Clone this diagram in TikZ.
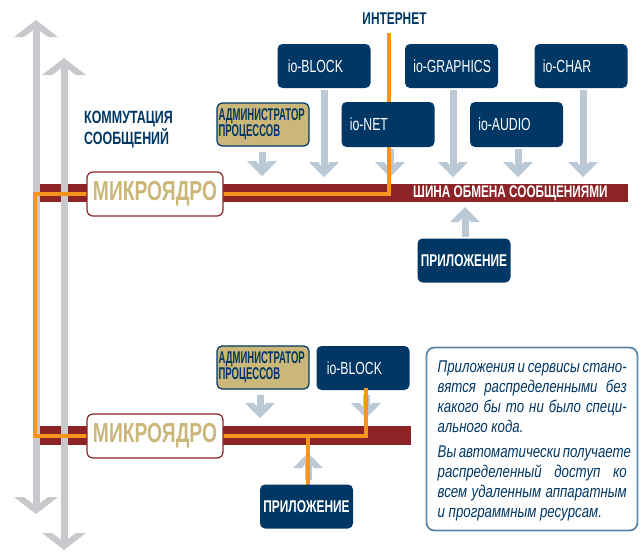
\documentclass[tikz,border=0pt]{standalone}
\usepackage{fontspec}
\setmainfont{Liberation Sans}
\newfontfamily\cf[FakeStretch=0.7]{Liberation Sans}
\newfontfamily\nf[FakeStretch=0.78]{Liberation Sans}
\usepackage{graphicx}
\definecolor{navy}{RGB}{0,55,100}
\definecolor{busred}{RGB}{139,35,39}
\definecolor{tan}{RGB}{203,183,122}
\definecolor{orng}{RGB}{247,148,29}
\definecolor{grayarr}{RGB}{200,201,204}
\definecolor{bluearr}{RGB}{187,201,215}
\definecolor{noteb}{RGB}{95,135,165}
\tikzset{
  navybox/.style={fill=navy, rounded corners=5pt, minimum width=93pt, minimum height=44pt, inner sep=0pt},
  adminbox/.style={fill=tan, draw=navy, line width=1.2pt, rounded corners=5pt, minimum width=92pt, minimum height=43pt, inner sep=0pt},
  kernelbox/.style={fill=white, draw=busred, line width=1.2pt, rounded corners=6pt, minimum width=136pt, minimum height=44pt, inner sep=0pt},
  bus/.style={fill=busred},
  orline/.style={draw=orng, line width=3.8pt},
  iotext/.style={text=white, font=\cf\fontsize{17.5}{18}\selectfont, anchor=west},
  labtxt/.style={text=navy, font=\cf\bfseries\fontsize{17}{19}\selectfont},
  kerntxt/.style={text=tan, font=\cf\bfseries\fontsize{27.5}{28}\selectfont},
  apptxt/.style={text=white, font=\cf\bfseries\fontsize{17}{17}\selectfont},
  admtxt/.style={anchor=west, inner sep=0pt, text=navy, align=left, font=\cf\bfseries\fontsize{13.6}{15.5}\selectfont},
}
\newcommand{\headup}[4]{% x, tip y, half width, color
  \fill[#4] (#1,#2) -- (#1+#3,#2+15) -- (#1+#3-9,#2+15) -- (#1,#2+7.5) -- (#1-#3+9,#2+15) -- (#1-#3,#2+15) -- cycle;}
\newcommand{\headdown}[4]{%
  \fill[#4] (#1,#2) -- (#1+#3,#2-15) -- (#1+#3-9,#2-15) -- (#1,#2-7.5) -- (#1-#3+9,#2-15) -- (#1-#3,#2-15) -- cycle;}
\newcommand{\bigheadup}[2]{%
  \fill[grayarr] (#1,#2) -- (#1+22,#2+17) -- (#1+12,#2+17) -- (#1,#2+8) -- (#1-12,#2+17) -- (#1-22,#2+17) -- cycle;}
\newcommand{\bigheaddown}[2]{%
  \fill[grayarr] (#1,#2) -- (#1+22,#2-17) -- (#1+12,#2-17) -- (#1,#2-8) -- (#1-12,#2-17) -- (#1-22,#2-17) -- cycle;}
\newcommand{\smalldown}[3]{% x, top, tip
  \fill[bluearr] (#1-3.5,#2) rectangle (#1+3.5,#3-4);
  \headdown{#1}{#3}{15}{bluearr}}
\newcommand{\smallup}[3]{% x, tip, bottom
  \fill[bluearr] (#1-3.5,#2+4) rectangle (#1+3.5,#3);
  \headup{#1}{#2}{15}{bluearr}}
\begin{document}
\begin{tikzpicture}[x=1pt,y=-1pt]
\useasboundingbox (0,0) rectangle (641,552);

% buses
\fill[bus] (40,184) rectangle (628,202);
\fill[bus] (40,426) rectangle (411,445);

% big gray arrows
\fill[grayarr] (32.5,23) rectangle (39.5,510);
\bigheadup{36}{20}
\bigheaddown{36}{514}
\fill[grayarr] (60.5,61) rectangle (67.5,546);
\bigheadup{64}{58}
\bigheaddown{64}{550}

% labels
\node[labtxt, anchor=north] (inet) at (394.5,9) {ИНТЕРНЕТ};
\node[labtxt, font=\cf\bfseries\fontsize{17.8}{19.5}\selectfont, anchor=north west, align=left, inner sep=0pt] (komm) at (84,111)
  {КОММУТАЦИЯ\\СООБЩЕНИЙ};
\node[text=white, font=\cf\bfseries\fontsize{16.8}{17}\selectfont, anchor=west, inner sep=0pt] (busl) at (413,193.5) {ШИНА ОБМЕНА СООБЩЕНИЯМИ};

% small arrows upper
\smalldown{262}{152}{176}
\smalldown{324}{90}{177}
\smalldown{390}{149}{177}
\smalldown{453}{90}{177}
\smalldown{518}{149}{177}
\smalldown{583}{90}{177}
\smallup{465}{207}{237}

% orange lines (drawn under boxes)
\coordinate (cTop) at (389,33);
\coordinate (cBus1) at (389,194);
\coordinate (cL1) at (35,194);
\coordinate (cL2) at (35,436);
\coordinate (cR2) at (366,436);
\coordinate (cJ) at (308,436);
\coordinate (cB2) at (366,388);
\coordinate (cA2) at (308,486);
\draw[orline, line join=miter] (cTop) -- (cBus1) -- (cL1) -- (cL2) -- (cR2) -- (cB2);
\draw[orline] (cJ) -- (cA2);

% top boxes
\node[navybox] (ioblock) at (324,66) {};
\node[iotext] at (ioblock.west) [xshift=7pt] {io-BLOCK};
\node[navybox] (iograph) at (451.5,66) {};
\node[iotext] at (iograph.west) [xshift=5pt] {io-GRAPHICS};
\node[navybox] (iochar) at (581,66) {};
\node[iotext] at (iochar.west) [xshift=5pt] {io-CHAR};
\node[navybox, minimum height=45pt] (ionet) at (388,124.5) {};
\node[iotext] at (ionet.west) [xshift=5pt] {io-NET};
\node[navybox, minimum height=45pt] (ioaudio) at (516.5,124.5) {};
\node[iotext] at (ioaudio.west) [xshift=5pt] {io-AUDIO};

\node[adminbox] (adm1) at (263,124.5) {};
\node[admtxt] at ([xshift=2pt]adm1.west) {\scalebox{1}[1.25]{АДМИНИСТРАТОР}\\\scalebox{1}[1.25]{ПРОЦЕССОВ}};

\node[navybox] (app1) at (464,260.5) {};
\node[apptxt] at (app1) {ПРИЛОЖЕНИЕ};

% lower section
\node[adminbox] (adm2) at (263,367.5) {};
\node[admtxt] at ([xshift=2pt]adm2.west) {\scalebox{1}[1.25]{АДМИНИСТРАТОР}\\\scalebox{1}[1.25]{ПРОЦЕССОВ}};
\node[navybox] (ioblock2) at (363,368) {};
\node[iotext] at (ioblock2.west) [xshift=7pt] {io-BLOCK};
\smalldown{260}{395}{418}
\smalldown{366}{395}{418}
\smallup{308}{453}{480}
\draw[orline] (cB2) -- (366,420);
\draw[orline] (308,450) -- (cA2);
\node[navybox] (app2) at (306.5,506.5) {};
\node[apptxt] at (app2) {ПРИЛОЖЕНИЕ};

% kernels
\node[kernelbox] (mk1) at (155,194) {};
\node[kerntxt] at (mk1) {МИКРОЯДРО};
\node[kernelbox] (mk2) at (155,436) {};
\node[kerntxt] at (mk2) {МИКРОЯДРО};

% note
\node[draw=noteb, line width=1.8pt, fill=white, rounded corners=8pt, minimum width=211pt, minimum height=183pt, inner sep=0pt] (note) at (532,439) {};
\node[anchor=north west, inner sep=0pt, text=navy, font=\nf\itshape\fontsize{17}{20}\selectfont, align=left] at (437.5,361) {%
\makebox[189pt][s]{Приложения и сервисы стано-}\\
\makebox[189pt][s]{вятся распределенными без}\\
\makebox[189pt][s]{какого бы то ни было специ-}\\
ального кода.\\[5pt]
\makebox[189pt][s]{Вы автоматически получаете}\\
\makebox[189pt][s]{распределенный доступ ко}\\
\makebox[189pt][s]{всем удаленным аппаратным}\\
и программным ресурсам.};
\end{tikzpicture}
\end{document}
